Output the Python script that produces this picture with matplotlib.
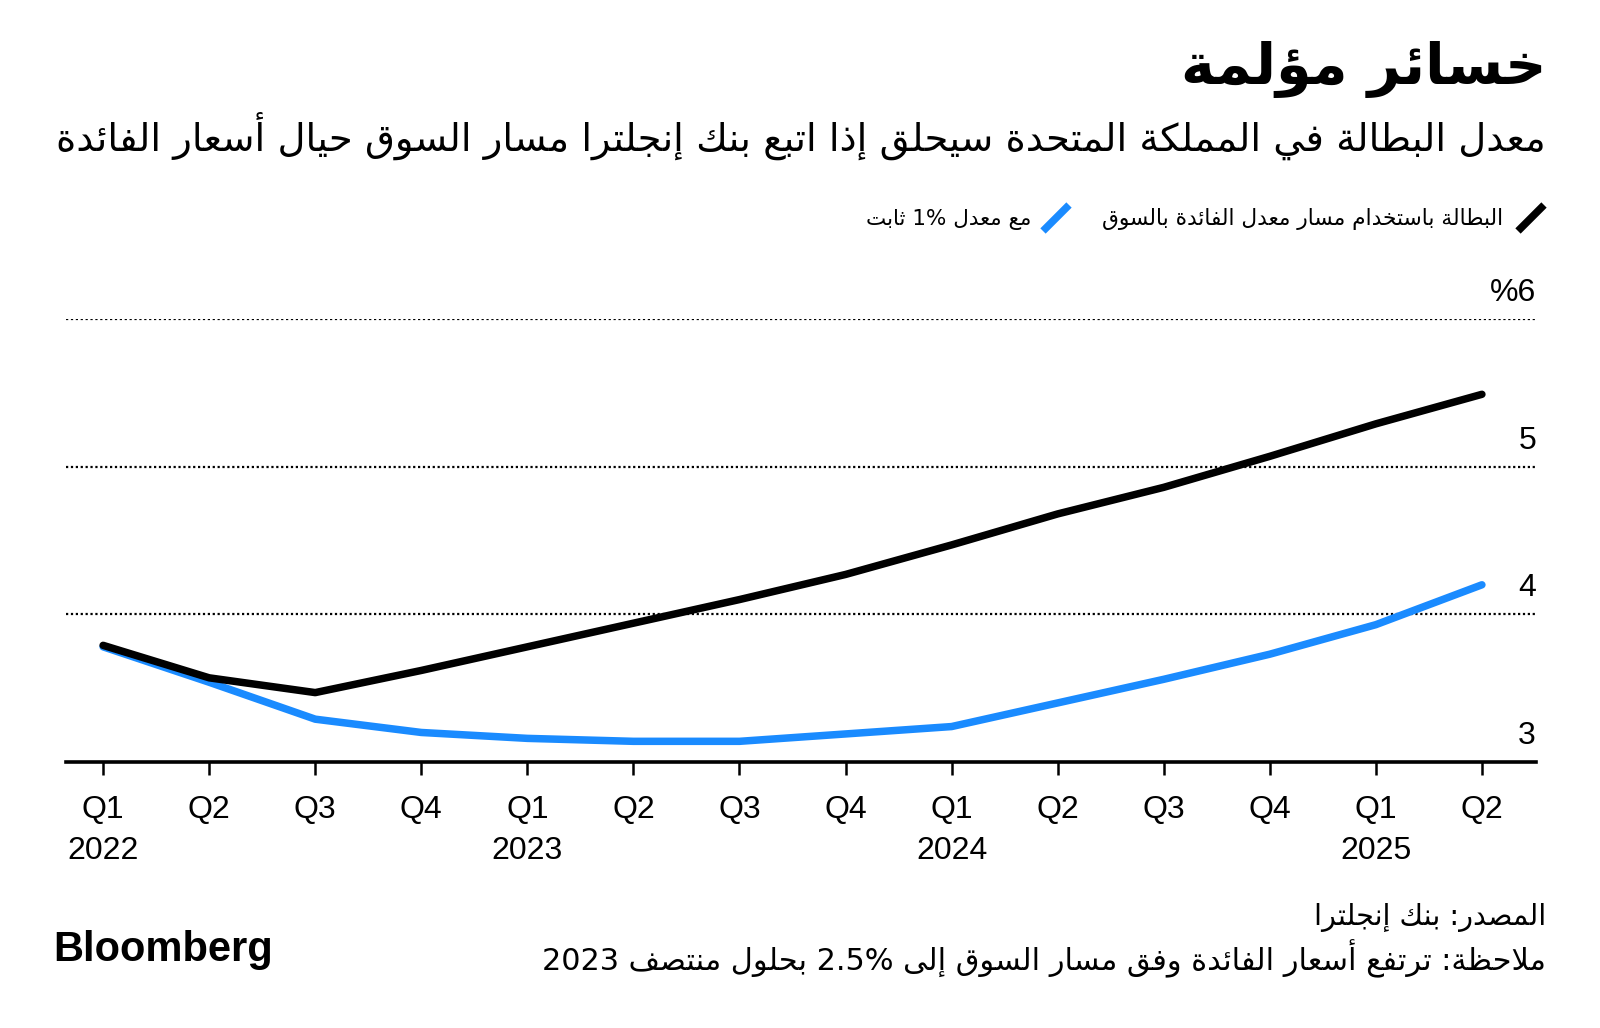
import matplotlib
matplotlib.use('Agg')
import matplotlib.pyplot as plt
from matplotlib import font_manager as fm
from matplotlib.lines import Line2D

# ---------------- data ----------------
quarters = ['Q1', 'Q2', 'Q3', 'Q4', 'Q1', 'Q2', 'Q3', 'Q4',
            'Q1', 'Q2', 'Q3', 'Q4', 'Q1', 'Q2']
years = ['2022', '', '', '', '2023', '', '', '', '2024', '', '', '', '2025', '']
market_path = [3.79, 3.57, 3.47, 3.62, 3.78, 3.94, 4.10, 4.27,
               4.47, 4.68, 4.86, 5.07, 5.29, 5.49]
fixed_rate = [3.78, 3.54, 3.29, 3.20, 3.16, 3.14, 3.14, 3.19,
              3.24, 3.40, 3.56, 3.73, 3.93, 4.20]
y_ticks = [3, 4, 5, 6]
y_tick_labels = ['3', '4', '5', '%6']

title = 'خسائر مؤلمة'
subtitle = 'معدل البطالة في المملكة المتحدة سيحلق إذا اتبع بنك إنجلترا مسار السوق حيال أسعار الفائدة'
legend_labels = ['البطالة باستخدام مسار معدل الفائدة بالسوق', 'مع معدل 1% ثابت']
source = 'المصدر: بنك إنجلترا'
note = 'ملاحظة: ترتفع أسعار الفائدة وفق مسار السوق إلى 2.5% بحلول منتصف 2023'

# ---------------- Arabic shaping (presentation forms + visual order) ----------------
_FORMS = {
    0x0621: (0xFE80, 1), 0x0622: (0xFE81, 2), 0x0623: (0xFE83, 2), 0x0624: (0xFE85, 2),
    0x0625: (0xFE87, 2), 0x0626: (0xFE89, 4), 0x0627: (0xFE8D, 2), 0x0628: (0xFE8F, 4),
    0x0629: (0xFE93, 2), 0x062A: (0xFE95, 4), 0x062B: (0xFE99, 4), 0x062C: (0xFE9D, 4),
    0x062D: (0xFEA1, 4), 0x062E: (0xFEA5, 4), 0x062F: (0xFEA9, 2), 0x0630: (0xFEAB, 2),
    0x0631: (0xFEAD, 2), 0x0632: (0xFEAF, 2), 0x0633: (0xFEB1, 4), 0x0634: (0xFEB5, 4),
    0x0635: (0xFEB9, 4), 0x0636: (0xFEBD, 4), 0x0637: (0xFEC1, 4), 0x0638: (0xFEC5, 4),
    0x0639: (0xFEC9, 4), 0x063A: (0xFECD, 4), 0x0641: (0xFED1, 4), 0x0642: (0xFED5, 4),
    0x0643: (0xFED9, 4), 0x0644: (0xFEDD, 4), 0x0645: (0xFEE1, 4), 0x0646: (0xFEE5, 4),
    0x0647: (0xFEE9, 4), 0x0648: (0xFEED, 2), 0x0649: (0xFEEF, 2), 0x064A: (0xFEF1, 4),
}
_LAMALEF = {'\u0622': 0xFEF5, '\u0623': 0xFEF7, '\u0625': 0xFEF9, '\u0627': 0xFEFB}


def _nforms(c):
    if isinstance(c, tuple):
        return 2
    v = _FORMS.get(ord(c))
    return v[1] if v else 0


def shape_ar(text):
    items = []
    i = 0
    while i < len(text):
        c = text[i]
        if c == '\u0644' and i + 1 < len(text) and text[i + 1] in _LAMALEF:
            items.append(('LA', text[i + 1]))
            i += 2
        else:
            items.append(c)
            i += 1
    out = []
    for k, c in enumerate(items):
        n = _nforms(c)
        if n == 0:
            out.append(c)
            continue
        prev = items[k - 1] if k > 0 else None
        nxt = items[k + 1] if k + 1 < len(items) else None
        pc = prev is not None and _nforms(prev) == 4 and n >= 2
        nc = nxt is not None and n == 4 and _nforms(nxt) >= 2
        if isinstance(c, tuple):
            out.append(chr(_LAMALEF[c[1]] + (1 if pc else 0)))
            continue
        base, _ = _FORMS[ord(c)]
        if n == 1:
            idx = 0
        elif n == 2:
            idx = 1 if pc else 0
        else:
            idx = {(False, False): 0, (True, False): 1,
                   (False, True): 2, (True, True): 3}[(pc, nc)]
        out.append(chr(base + idx))
    return ''.join(out)


def _ltr(ch):
    return ch.isascii() and (ch.isalnum() or ch in '.%')


def visual(text):
    s = shape_ar(text)
    tokens = []
    i = 0
    while i < len(s):
        if _ltr(s[i]):
            j = i
            while j < len(s) and _ltr(s[j]):
                j += 1
            tokens.append(s[i:j])
            i = j
        else:
            tokens.append(s[i])
            i += 1
    return ''.join(reversed(tokens))


# ---------------- figure ----------------
W, H = 1600, 1028
fig = plt.figure(figsize=(W / 100, H / 100), dpi=100)
fig.patch.set_facecolor('white')

names = {f.name for f in fm.fontManager.ttflist}
num_font = 'Liberation Sans Narrow' if 'Liberation Sans Narrow' in names else 'Liberation Sans'
ar_font = ['DejaVu Sans']
blue = '#1a8bff'


def P(x, y):
    return (x / W, 1 - y / H)


renderer = fig.canvas.get_renderer()


def fit_text(x, y, s, width, ha='right', va='center', **kw):
    t = fig.text(*P(x, y), s, ha=ha, va=va, fontsize=20, **kw)
    w = t.get_window_extent(renderer).width
    t.set_fontsize(20 * width / w)
    return t


# axes
ax = fig.add_axes([66 / W, 1 - 762 / H, (1536 - 66) / W, (762 - 319) / H])
ax.set_xlim(-0.35, 13.51)
ax.set_ylim(3, 6)
for s in ['top', 'left', 'right']:
    ax.spines[s].set_visible(False)
ax.spines['bottom'].set_linewidth(2.6)
ax.spines['bottom'].set_color('black')
ax.set_facecolor('none')

for y in y_ticks[1:]:
    ax.axhline(y, color='black', lw=1.6, ls=(0, (1, 1.2)), zorder=1)

x = list(range(len(quarters)))
ax.plot(x, fixed_rate, color=blue, lw=5.4, solid_capstyle='round',
        solid_joinstyle='round', zorder=3, clip_on=False)
ax.plot(x, market_path, color='black', lw=5.4, solid_capstyle='round',
        solid_joinstyle='round', zorder=4, clip_on=False)

ax.set_yticks([])
ax.set_xticks(x)
ax.set_xticklabels([q + ('\n' + yr if yr else '') for q, yr in zip(quarters, years)],
                   fontfamily=num_font, fontsize=23, linespacing=1.5)
ax.tick_params(axis='x', length=9.5, width=1.8, color='black', pad=14,
               direction='out')

for yv, lab in zip(y_ticks, y_tick_labels):
    ax.annotate(lab, xy=(1, yv), xycoords=('axes fraction', 'data'),
                xytext=(0, 13), textcoords='offset points', ha='right',
                va='baseline', fontsize=23, fontfamily=num_font)

# title and subtitle
fit_text(1546, 70, visual(title), 364, fontfamily=ar_font, fontweight='bold')
fit_text(1546, 136, visual(subtitle), 1490, fontfamily=ar_font)

# legend
fig.add_artist(Line2D([1518 / W, 1544 / W], [1 - 231 / H, 1 - 205 / H],
                      color='black', lw=5.4, solid_capstyle='butt'))
fit_text(1503, 219, visual(legend_labels[0]), 403, fontfamily=ar_font)
fig.add_artist(Line2D([1043 / W, 1069 / W], [1 - 231 / H, 1 - 205 / H],
                      color=blue, lw=5.4, solid_capstyle='butt'))
fit_text(1031, 219, visual(legend_labels[1]), 166, fontfamily=ar_font)

# footer
fit_text(1546, 918, visual(source), 232, fontfamily=ar_font)
fit_text(1546, 959, visual(note), 1005, fontfamily=ar_font)
fit_text(53, 950, 'Bloomberg', 219, ha='left', fontfamily='Liberation Sans',
         fontweight='bold')

fig.savefig('out.png', dpi=100, facecolor='white')
